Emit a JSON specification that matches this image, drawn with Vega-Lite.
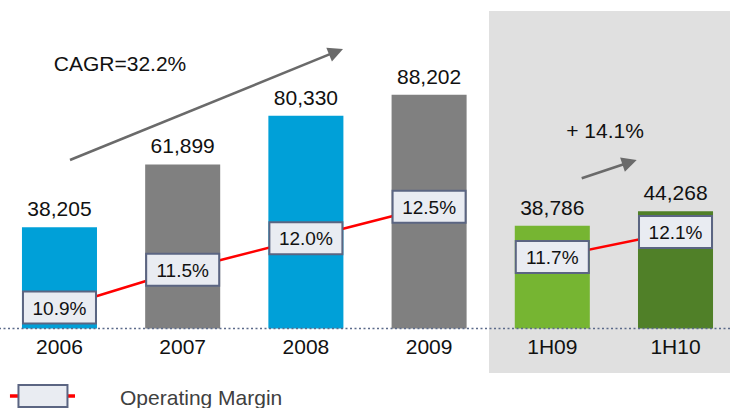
{
  "$schema": "https://vega.github.io/schema/vega-lite/v6.json",
  "width": 730,
  "height": 408,
  "padding": 0,
  "autosize": "none",
  "config": {
    "view": {"stroke": null},
    "font": "Liberation Sans",
    "axis": {"disable": true}
  },
  "data": {
    "values": [
      {"period": "2006", "revenue": 38205, "margin": 0.109, "segment": "annual"},
      {"period": "2007", "revenue": 61899, "margin": 0.115, "segment": "annual"},
      {"period": "2008", "revenue": 80330, "margin": 0.120, "segment": "annual"},
      {"period": "2009", "revenue": 88202, "margin": 0.125, "segment": "annual"},
      {"period": "1H09", "revenue": 38786, "margin": 0.117, "segment": "half"},
      {"period": "1H10", "revenue": 44268, "margin": 0.121, "segment": "half"}
    ]
  },
  "layer": [
    {
      "layer": [
        {
          "data": {"values": [{}]},
          "mark": {"type": "rect", "color": "#E0E0E0"},
          "encoding": {
            "x": {"datum": "1H09", "bandPosition": -0.344, "scale": {"type": "band", "domain": ["2006","2007","2008","2009","1H09","1H10"], "paddingInner": 0.391, "paddingOuter": 0.158, "align": 0.564}, "axis": null},
            "x2": {"datum": "1H10", "bandPosition": 1.227},
            "y": {"datum": 119800, "type": "quantitative", "scale": {"domain": [-30000, 123962], "nice": false}, "axis": null},
            "y2": {"datum": -16800}
          }
        },
        {
          "mark": {"type": "bar"},
          "encoding": {
            "x": {"field": "period", "type": "nominal", "scale": {"type": "band", "domain": ["2006","2007","2008","2009","1H09","1H10"], "paddingInner": 0.391, "paddingOuter": 0.158, "align": 0.564}, "axis": null},
            "y": {"field": "revenue", "type": "quantitative", "scale": {"domain": [-30000, 123962], "nice": false}, "axis": null},
            "color": {"field": "period", "type": "nominal", "scale": {"domain": ["2006","2007","2008","2009","1H09","1H10"], "range": ["#00A0D8","#808080","#00A0D8","#808080","#76B532","#508028"]}, "legend": null}
          }
        },
        {
          "data": {"values": [{}]},
          "mark": {"type": "rule", "color": "#5B6A8A", "strokeDash": [2, 2.5], "strokeWidth": 1.5},
          "encoding": {
            "y": {"datum": 0, "type": "quantitative", "scale": {"domain": [-30000, 123962], "nice": false}, "axis": null}
          }
        },
        {
          "mark": {"type": "text", "fontSize": 21, "dy": -11, "baseline": "alphabetic", "color": "#111111"},
          "encoding": {
            "x": {"field": "period", "type": "nominal", "scale": {"type": "band", "domain": ["2006","2007","2008","2009","1H09","1H10"], "paddingInner": 0.391, "paddingOuter": 0.158, "align": 0.564}, "axis": null},
            "y": {"field": "revenue", "type": "quantitative", "scale": {"domain": [-30000, 123962], "nice": false}, "axis": null},
            "text": {"field": "revenue", "type": "quantitative", "format": ","}
          }
        },
        {
          "mark": {"type": "text", "fontSize": 21, "dy": 26, "baseline": "alphabetic", "color": "#111111"},
          "encoding": {
            "x": {"field": "period", "type": "nominal", "scale": {"type": "band", "domain": ["2006","2007","2008","2009","1H09","1H10"], "paddingInner": 0.391, "paddingOuter": 0.158, "align": 0.564}, "axis": null},
            "y": {"datum": 0, "type": "quantitative", "scale": {"domain": [-30000, 123962], "nice": false}, "axis": null},
            "text": {"field": "period", "type": "nominal"}
          }
        },
        {
          "data": {"values": [{}]},
          "mark": {"type": "rule", "color": "#6A6A6A", "strokeWidth": 2.5},
          "encoding": {
            "x": {"datum": "2006", "bandPosition": 0.64, "scale": {"type": "band", "domain": ["2006","2007","2008","2009","1H09","1H10"], "paddingInner": 0.391, "paddingOuter": 0.158, "align": 0.564}, "axis": null},
            "x2": {"datum": "2008", "bandPosition": 0.87},
            "y": {"datum": 63585, "type": "quantitative", "scale": {"domain": [-30000, 123962], "nice": false}, "axis": null},
            "y2": {"datum": 104075}
          }
        },
        {
          "data": {"values": [{}]},
          "mark": {"type": "point", "shape": "M0,0L-1,-0.5L-1,0.5Z", "size": 900, "filled": true, "color": "#6A6A6A", "opacity": 1, "angle": 338},
          "encoding": {
            "x": {"datum": "2008", "bandPosition": 0.995, "scale": {"type": "band", "domain": ["2006","2007","2008","2009","1H09","1H10"], "paddingInner": 0.391, "paddingOuter": 0.158, "align": 0.564}, "axis": null},
            "y": {"datum": 105472, "type": "quantitative", "scale": {"domain": [-30000, 123962], "nice": false}, "axis": null}
          }
        },
        {
          "data": {"values": [{}]},
          "mark": {"type": "rule", "color": "#6A6A6A", "strokeWidth": 2.5},
          "encoding": {
            "x": {"datum": "1H09", "bandPosition": 0.892, "scale": {"type": "band", "domain": ["2006","2007","2008","2009","1H09","1H10"], "paddingInner": 0.391, "paddingOuter": 0.158, "align": 0.564}, "axis": null},
            "x2": {"datum": "1H09", "bandPosition": 1.512},
            "y": {"datum": 56679, "type": "quantitative", "scale": {"domain": [-30000, 123962], "nice": false}, "axis": null},
            "y2": {"datum": 62528}
          }
        },
        {
          "data": {"values": [{}]},
          "mark": {"type": "point", "shape": "M0,0L-1,-0.5L-1,0.5Z", "size": 900, "filled": true, "color": "#6A6A6A", "opacity": 1, "angle": 341.6},
          "encoding": {
            "x": {"datum": "1H09", "bandPosition": 1.625, "scale": {"type": "band", "domain": ["2006","2007","2008","2009","1H09","1H10"], "paddingInner": 0.391, "paddingOuter": 0.158, "align": 0.564}, "axis": null},
            "y": {"datum": 63585, "type": "quantitative", "scale": {"domain": [-30000, 123962], "nice": false}, "axis": null}
          }
        },
        {
          "data": {"values": [{}]},
          "mark": {"type": "text", "fontSize": 21, "baseline": "alphabetic", "align": "center", "color": "#111111"},
          "encoding": {
            "x": {"datum": "2006", "bandPosition": 1.307, "scale": {"type": "band", "domain": ["2006","2007","2008","2009","1H09","1H10"], "paddingInner": 0.391, "paddingOuter": 0.158, "align": 0.564}, "axis": null},
            "y": {"datum": 97283, "type": "quantitative", "scale": {"domain": [-30000, 123962], "nice": false}, "axis": null},
            "text": {"value": "CAGR=32.2%"}
          }
        },
        {
          "data": {"values": [{}]},
          "mark": {"type": "text", "fontSize": 21, "baseline": "alphabetic", "align": "center", "color": "#111111"},
          "encoding": {
            "x": {"datum": "1H09", "bandPosition": 1.203, "scale": {"type": "band", "domain": ["2006","2007","2008","2009","1H09","1H10"], "paddingInner": 0.391, "paddingOuter": 0.158, "align": 0.564}, "axis": null},
            "y": {"datum": 72075, "type": "quantitative", "scale": {"domain": [-30000, 123962], "nice": false}, "axis": null},
            "text": {"value": "+ 14.1%"}
          }
        },
        {
          "data": {"values": [{}]},
          "mark": {"type": "rule", "color": "#FF0000", "strokeWidth": 3.5},
          "encoding": {
            "x": {"datum": "2006", "bandPosition": -0.16, "scale": {"type": "band", "domain": ["2006","2007","2008","2009","1H09","1H10"], "paddingInner": 0.391, "paddingOuter": 0.158, "align": 0.564}, "axis": null},
            "x2": {"datum": "2006", "bandPosition": 0.707},
            "y": {"datum": -25472, "type": "quantitative", "scale": {"domain": [-30000, 123962], "nice": false}, "axis": null}
          }
        },
        {
          "data": {"values": [{}]},
          "mark": {"type": "point", "shape": "M-1,-0.449H1V0.449H-1Z", "size": 2401, "filled": true, "fill": "#E9ECF2", "stroke": "#5B6582", "strokeWidth": 2, "opacity": 1},
          "encoding": {
            "x": {"datum": "2006", "bandPosition": 0.28, "scale": {"type": "band", "domain": ["2006","2007","2008","2009","1H09","1H10"], "paddingInner": 0.391, "paddingOuter": 0.158, "align": 0.564}, "axis": null},
            "y": {"datum": -25472, "type": "quantitative", "scale": {"domain": [-30000, 123962], "nice": false}, "axis": null}
          }
        },
        {
          "data": {"values": [{}]},
          "mark": {"type": "text", "fontSize": 21, "baseline": "alphabetic", "align": "left", "color": "#404040"},
          "encoding": {
            "x": {"datum": "2006", "bandPosition": 1.307, "scale": {"type": "band", "domain": ["2006","2007","2008","2009","1H09","1H10"], "paddingInner": 0.391, "paddingOuter": 0.158, "align": 0.564}, "axis": null},
            "y": {"datum": -28868, "type": "quantitative", "scale": {"domain": [-30000, 123962], "nice": false}, "axis": null},
            "text": {"value": "Operating Margin"}
          }
        }
      ]
    },
    {
      "layer": [
        {
          "mark": {"type": "line", "color": "#FF0000", "strokeWidth": 2.5},
          "encoding": {
            "x": {"field": "period", "type": "nominal", "scale": {"type": "band", "domain": ["2006","2007","2008","2009","1H09","1H10"], "paddingInner": 0.391, "paddingOuter": 0.158, "align": 0.564}, "axis": null},
            "y": {"field": "margin", "type": "quantitative", "scale": {"domain": [0.09305, 0.15781], "nice": false, "zero": false}, "axis": null},
            "detail": {"field": "segment", "type": "nominal"}
          }
        },
        {
          "mark": {"type": "point", "shape": "M-1,-0.438H1V0.438H-1Z", "size": 5329, "filled": true, "fill": "#E9ECF2", "stroke": "#5B6582", "strokeWidth": 2, "opacity": 1},
          "encoding": {
            "x": {"field": "period", "type": "nominal", "scale": {"type": "band", "domain": ["2006","2007","2008","2009","1H09","1H10"], "paddingInner": 0.391, "paddingOuter": 0.158, "align": 0.564}, "axis": null},
            "y": {"field": "margin", "type": "quantitative", "scale": {"domain": [0.09305, 0.15781], "nice": false, "zero": false}, "axis": null}
          }
        },
        {
          "mark": {"type": "text", "fontSize": 19, "baseline": "middle", "dy": 1, "color": "#111111"},
          "encoding": {
            "x": {"field": "period", "type": "nominal", "scale": {"type": "band", "domain": ["2006","2007","2008","2009","1H09","1H10"], "paddingInner": 0.391, "paddingOuter": 0.158, "align": 0.564}, "axis": null},
            "y": {"field": "margin", "type": "quantitative", "scale": {"domain": [0.09305, 0.15781], "nice": false, "zero": false}, "axis": null},
            "text": {"field": "margin", "type": "quantitative", "format": ".1%"}
          }
        }
      ]
    }
  ],
  "resolve": {"scale": {"y": "independent"}}
}
